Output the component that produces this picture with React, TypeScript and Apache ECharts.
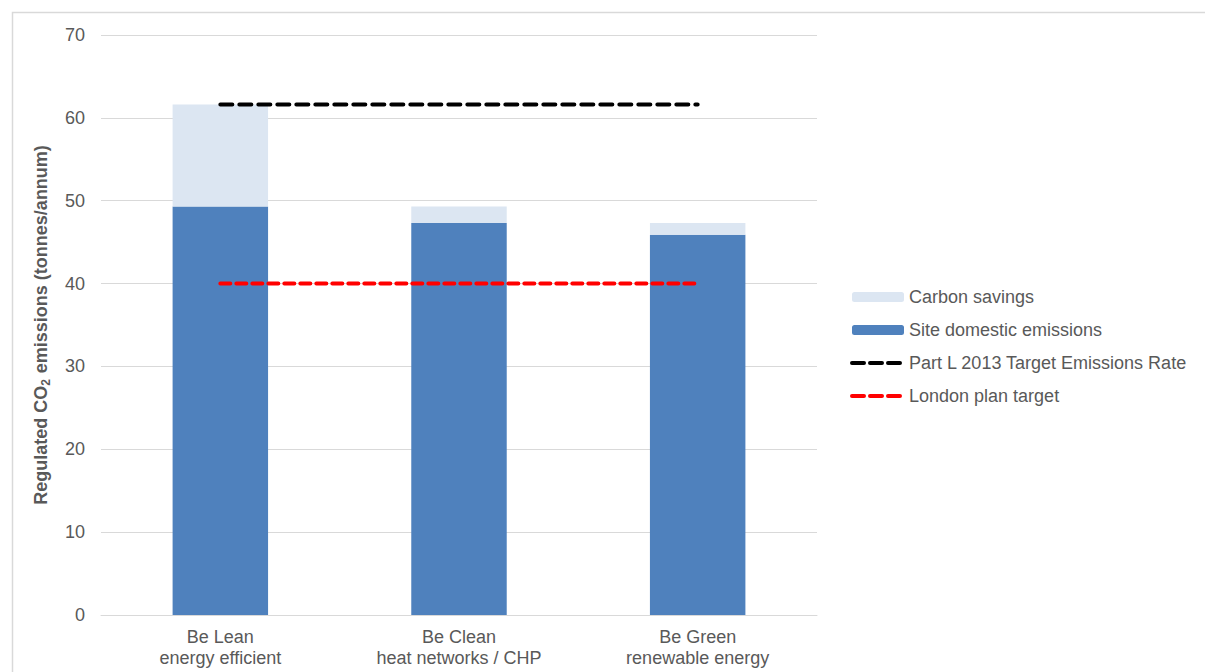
import React, { useEffect, useRef } from "react";
import * as echarts from "echarts";

const categories = ["Be Lean\nenergy efficient", "Be Clean\nheat networks / CHP", "Be Green\nrenewable energy"];
const siteDomestic = [49.3, 47.3, 45.9];
const carbonSavings = [12.3, 2.0, 1.4];
const partLTarget = [61.6, 61.6, 61.6];
const londonPlanTarget = [40, 40, 40];
const yTicks = { min: 0, max: 70, interval: 10 };

const FONT = "'Liberation Sans', Arial, sans-serif";
const TEXT = "#595959";

export default function App() {
  const ref = useRef<HTMLDivElement>(null);
  useEffect(() => {
    if (!ref.current) return;
    const chart = echarts.init(ref.current, undefined, { renderer: "svg" });
    chart.setOption({
      animation: false,
      textStyle: { fontFamily: FONT, color: TEXT },
      graphic: [
        {
          type: "rect",
          shape: { x: 12.5, y: 12.5, width: 1300, height: 800 },
          style: { fill: "none", stroke: "#d9d9d9", lineWidth: 1.5 },
          silent: true,
          z: -10,
        },
      ],
      grid: { left: 101, right: 388, top: 35, bottom: 57 },
      legend: {
        orient: "vertical",
        left: 850,
        top: 287,
        padding: 0,
        itemWidth: 52,
        itemHeight: 10,
        itemGap: 13,
        data: [
          { name: "Carbon savings" },
          { name: "Site domestic emissions" },
          {
            name: "Part L 2013 Target Emissions Rate",
            itemStyle: { opacity: 0 },
            lineStyle: { color: "#000000", width: 4, type: [12, 6], cap: "round" },
          },
          {
            name: "London plan target",
            itemStyle: { opacity: 0 },
            lineStyle: { color: "#FF0000", width: 4, type: [12, 6], cap: "round" },
          },
        ],
        textStyle: { fontFamily: FONT, color: TEXT, fontSize: 18, lineHeight: 20 },
      },
      xAxis: {
        type: "category",
        data: categories,
        axisLine: { lineStyle: { color: "#d9d9d9", width: 1 } },
        axisTick: { show: false },
        axisLabel: { fontFamily: FONT, color: TEXT, fontSize: 18, lineHeight: 21, margin: 11 },
      },
      yAxis: {
        type: "value",
        min: yTicks.min,
        max: yTicks.max,
        interval: yTicks.interval,
        name: "Regulated CO{sub|2} emissions (tonnes/annum)",
        nameLocation: "middle",
        nameGap: 49,
        nameTextStyle: {
          fontFamily: FONT,
          color: TEXT,
          fontSize: 18,
          fontWeight: "bold",
          lineHeight: 22,
          rich: {
            sub: {
              fontFamily: FONT,
              color: TEXT,
              fontSize: 12,
              fontWeight: "bold",
              verticalAlign: "bottom",
              lineHeight: 22,
              padding: [0, 1, 0, 0],
            },
          },
        },
        axisLabel: { fontFamily: FONT, color: TEXT, fontSize: 18, margin: 16 },
        splitLine: { lineStyle: { color: "#d9d9d9", width: 1 } },
        axisLine: { show: false },
        axisTick: { show: false },
      },
      series: [
        {
          name: "Site domestic emissions",
          type: "bar",
          stack: "total",
          data: siteDomestic,
          barWidth: "40%",
          itemStyle: { color: "#4F81BD" },
        },
        {
          name: "Carbon savings",
          type: "bar",
          stack: "total",
          data: carbonSavings,
          barWidth: "40%",
          itemStyle: { color: "#DCE6F2" },
        },
        {
          name: "Part L 2013 Target Emissions Rate",
          type: "line",
          data: partLTarget,
          symbol: "none",
          z: 5,
          lineStyle: { color: "#000000", width: 4, type: [12, 7], cap: "round" },
          itemStyle: { color: "#000000" },
        },
        {
          name: "London plan target",
          type: "line",
          data: londonPlanTarget,
          symbol: "none",
          z: 5,
          lineStyle: { color: "#FF0000", width: 4, type: [10, 6], cap: "round" },
          itemStyle: { color: "#FF0000" },
        },
      ],
    });
    return () => chart.dispose();
  }, []);
  return (
    <div
      ref={ref}
      style={{ position: "fixed", left: 0, top: 0, width: 1205, height: 672, background: "#fff" }}
    />
  );
}
